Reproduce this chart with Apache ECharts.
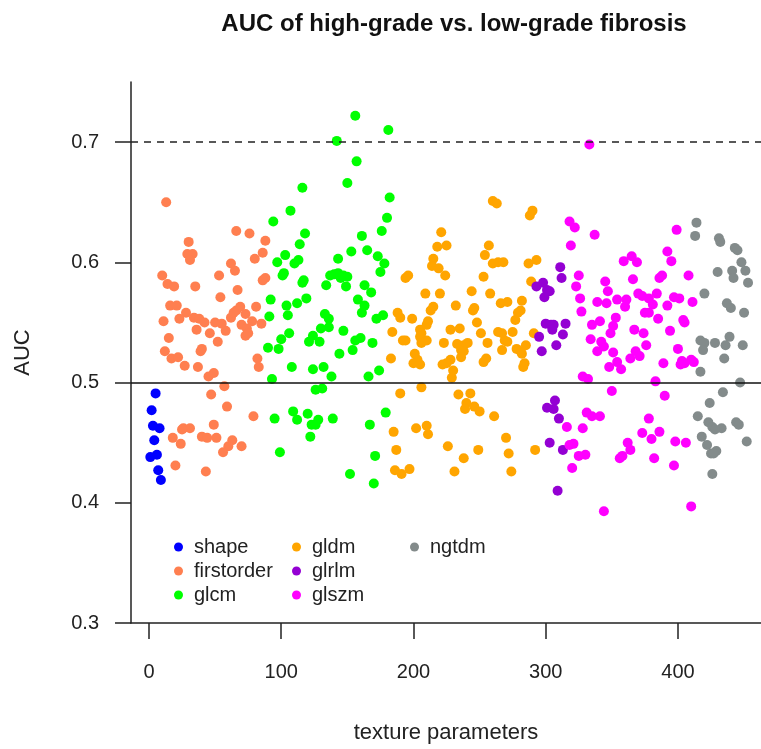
<!DOCTYPE html>
<html>
<head>
<meta charset="utf-8">
<script src="https://cdn.jsdelivr.net/npm/echarts/dist/echarts.min.js"></script>
<style>html,body{margin:0;padding:0;background:#fff}#c{width:761px;height:749px}</style>
</head>
<body>
<div id="c"></div>
<script>
const titleText = 'AUC of high-grade vs. low-grade fibrosis';
const xName = 'texture parameters';
const yName = 'AUC';
const xTicks = [0, 100, 200, 300, 400];
const yTicks = [0.3, 0.4, 0.5, 0.6, 0.7];
const refSolid = 0.5;
const refDashed = 0.7;
const groups = ['shape', 'firstorder', 'glcm', 'gldm', 'glrlm', 'glszm', 'ngtdm'];

const shape = [[1,0.438],[2,0.477],[3,0.464],[4,0.452],[5,0.491],[6,0.440],[7,0.427],[8,0.462],[9,0.419]];

const firstorder = [[13,0.650],[30,0.617],[29,0.607],[33,0.607],[31,0.602],[66,0.626],[76,0.624],[88,0.618],[86,0.608],[80,0.603],
[62,0.599],[65,0.593],[10,0.589],[14,0.582],[19,0.580],[35,0.580],[53,0.589],[67,0.577],[88,0.587],[86,0.585],
[54,0.571],[16,0.564],[21,0.564],[28,0.558],[11,0.551],[23,0.553],[34,0.554],[38,0.553],[42,0.550],[36,0.544],
[50,0.550],[55,0.549],[58,0.543],[46,0.541],[52,0.534],[15,0.537],[62,0.554],[66,0.560],[69,0.563],[73,0.557],[64,0.558],[81,0.563],
[70,0.548],[74,0.545],[78,0.551],[73,0.539],[75,0.541],[85,0.549],[12,0.526],[17,0.520],[22,0.521],[40,0.528],[39,0.526],[27,0.514],[37,0.513],[82,0.520],[83,0.513],
[49,0.508],[45,0.505],[57,0.497],[47,0.490],[59,0.480],[79,0.472],[49,0.465],[26,0.462],[31,0.462],[25,0.461],[18,0.454],[24,0.449],[40,0.455],[44,0.454],[51,0.454],
[63,0.452],[60,0.447],[56,0.442],[70,0.447],[20,0.431],[43,0.426]];

const glcm = [[156,0.722],[142,0.701],[181,0.710],[157,0.684],[150,0.666],[116,0.662],[182,0.654],[107,0.643],[180,0.637],[94,0.634],[176,0.626],[118,0.624],[161,0.622],[114,0.615],[153,0.609],[165,0.610],[143,0.603],[173,0.605],[103,0.606],[97,0.600],[110,0.599],[113,0.602],[178,0.599],[175,0.592],
[101,0.589],[102,0.591],[116,0.583],[117,0.585],[134,0.581],[137,0.589],[140,0.590],[143,0.591],[147,0.589],[150,0.588],[145,0.587],[149,0.580],[163,0.581],[168,0.575],
[158,0.569],[92,0.569],[104,0.564],[112,0.566],[119,0.570],[163,0.564],[161,0.558],[172,0.553],[177,0.556],
[91,0.555],[105,0.556],[133,0.557],[136,0.553],[130,0.545],[136,0.546],[147,0.543],[106,0.541],[100,0.536],[124,0.539],[121,0.534],[129,0.534],[156,0.535],[154,0.527],[160,0.537],[169,0.533],
[90,0.529],[98,0.528],[144,0.524],[108,0.513],[124,0.511],[132,0.513],[138,0.505],[93,0.503],[166,0.505],[174,0.510],
[126,0.494],[131,0.495],[95,0.470],[109,0.476],[112,0.469],[120,0.474],[128,0.469],[123,0.465],[126,0.465],[139,0.470],[179,0.475],[167,0.465],[122,0.455],[99,0.442],[171,0.439],[152,0.424],[170,0.416]];

const gldm = [[260,0.651],[263,0.649],[288,0.639],[290,0.643],[221,0.625],[218,0.613],[225,0.614],[257,0.614],[254,0.606],[215,0.603],[260,0.599],[264,0.600],[268,0.600],[287,0.599],[293,0.602],[214,0.597],[219,0.595],[224,0.589],[194,0.587],[196,0.589],[253,0.588],[289,0.584],[209,0.574],[220,0.574],[244,0.576],[258,0.574],
[266,0.566],[271,0.567],[281,0.560],[279,0.558],[232,0.564],[246,0.562],[245,0.560],[215,0.563],[213,0.560],[188,0.558],[190,0.554],[199,0.553],[211,0.551],[210,0.548],[205,0.544],[248,0.550],[277,0.552],[184,0.542],[206,0.541],[205,0.538],[228,0.544],[235,0.545],[251,0.541],[264,0.542],[267,0.541],[275,0.542],
[192,0.535],[194,0.535],[210,0.535],[206,0.533],[223,0.533],[233,0.532],[238,0.531],[241,0.533],[236,0.527],[238,0.526],[256,0.533],[269,0.535],[271,0.534],[267,0.527],[278,0.528],[281,0.526],[285,0.531],[282,0.524],
[201,0.524],[203,0.519],[200,0.516],[205,0.515],[183,0.520],[228,0.519],[225,0.516],[222,0.515],[236,0.521],[255,0.520],[253,0.517],[284,0.516],[283,0.513],[230,0.510],[229,0.504],[282,0.568],[291,0.541],
[206,0.496],[190,0.491],[234,0.490],[243,0.491],[240,0.483],[239,0.478],[246,0.480],[250,0.476],[261,0.472],[185,0.459],[202,0.462],[210,0.464],[211,0.457],[270,0.454],[226,0.447],[187,0.444],[249,0.444],[272,0.441],[238,0.437],[292,0.444],[186,0.427],[191,0.424],[197,0.428],[231,0.426],[274,0.426]];

const glrlm = [[293,0.580],[311,0.596],[312,0.587],[298,0.583],[301,0.577],[303,0.576],[299,0.571],
[300,0.549],[304,0.548],[306,0.548],[305,0.544],[315,0.549],[295,0.538],[313,0.540],[308,0.531],[297,0.526],
[307,0.485],[301,0.479],[306,0.478],[310,0.470],[303,0.450],[313,0.444],[309,0.410]];

const glszm = [[333,0.698],[318,0.634],[322,0.629],[337,0.623],[319,0.614],[399,0.627],[365,0.605],[359,0.601],[369,0.600],[392,0.609],[395,0.601],[325,0.589],[323,0.580],[345,0.584],[347,0.576],[366,0.586],[388,0.589],[386,0.587],[408,0.589],
[326,0.570],[327,0.559],[339,0.567],[346,0.566],[354,0.569],[361,0.569],[360,0.563],[370,0.574],[373,0.572],[378,0.570],[381,0.565],[384,0.574],[392,0.564],[397,0.571],[401,0.570],[411,0.567],[375,0.558],[378,0.558],[353,0.554],[385,0.553],[404,0.552],[405,0.550],[341,0.551],[335,0.548],[351,0.547],[349,0.541],[367,0.544],[374,0.541],[394,0.543],[334,0.536],[342,0.534],[344,0.530],[376,0.531],[339,0.526],[351,0.525],[368,0.526],[371,0.522],[364,0.520],[400,0.528],[389,0.516],[354,0.517],[357,0.511],[348,0.513],[403,0.518],[405,0.516],[410,0.519],[412,0.517],[402,0.515],
[328,0.505],[332,0.503],[383,0.501],[350,0.493],[390,0.489],[331,0.475],[335,0.472],[341,0.472],[378,0.470],[316,0.463],[328,0.462],[373,0.458],[386,0.459],[380,0.453],[362,0.450],[398,0.451],[406,0.450],[318,0.448],[321,0.449],[364,0.444],[325,0.439],[330,0.440],[356,0.437],[358,0.439],[382,0.437],[320,0.429],[397,0.431],[344,0.393],[410,0.397]];

const ngtdm = [[414,0.633],[413,0.622],[431,0.620],[432,0.617],[443,0.612],[445,0.610],[448,0.600],[451,0.593],[453,0.583],[430,0.592],[441,0.593],[442,0.587],[420,0.574],[437,0.566],[440,0.562],[450,0.558],[417,0.535],[420,0.533],[428,0.533],[419,0.527],[439,0.538],[436,0.531],[449,0.531],[435,0.520],[417,0.509],[447,0.500],[434,0.492],[424,0.483],[415,0.472],[423,0.467],[426,0.463],[433,0.462],[428,0.461],[444,0.467],[446,0.465],[418,0.455],[422,0.448],[425,0.441],[429,0.443],[427,0.441],[452,0.451],[426,0.424]];

const seriesData = [shape, firstorder, glcm, gldm, glrlm, glszm, ngtdm];
const colors = ['#0000FF', '#FF7F50', '#00FF00', '#FFA500', '#9400D3', '#FF00FF', '#838B8B'];

const FONT = '"Liberation Sans", Arial, Helvetica, sans-serif';
const chart = echarts.init(document.getElementById('c'), null, {renderer: 'canvas'});

const series = groups.map((g, i) => ({
  name: g,
  type: 'scatter',
  data: seriesData[i],
  symbol: 'circle',
  symbolSize: 10,
  itemStyle: {color: colors[i], opacity: 1},
  emphasis: {disabled: true},
  z: 2
}));
series.push({
  name: 'ref',
  type: 'scatter',
  data: [],
  silent: true,
  markLine: {
    silent: true,
    symbol: ['none', 'none'],
    label: {show: false},
    animation: false,
    data: [
      {yAxis: refSolid, lineStyle: {color: '#111', width: 1.6, type: 'solid'}},
      {yAxis: refDashed, lineStyle: {color: '#222', width: 1.6, type: [7, 6]}}
    ]
  }
});

const legendCommon = {
  orient: 'vertical',
  icon: 'circle',
  itemWidth: 9,
  itemHeight: 9,
  itemGap: 4,
  selectedMode: false,
  textStyle: {fontFamily: FONT, fontSize: 20, color: '#222', padding: [0, 0, 0, 6]},
  top: 532
};

chart.setOption({
  animation: false,
  backgroundColor: '#fff',
  color: colors,
  title: {
    text: titleText,
    left: 449,
    textAlign: 'center',
    top: 7,
    textStyle: {fontFamily: FONT, fontSize: 24, fontWeight: 'bold', color: '#111'}
  },
  legend: [
    Object.assign({}, legendCommon, {left: 169, data: groups.slice(0, 3)}),
    Object.assign({}, legendCommon, {left: 287, data: groups.slice(3, 6)}),
    Object.assign({}, legendCommon, {left: 405, data: groups.slice(6)})
  ],
  grid: {left: 131, right: 0, top: 82, bottom: 126, containLabel: false},
  xAxis: {
    type: 'value',
    min: -13.6,
    max: 462.8,
    name: xName,
    nameLocation: 'middle',
    nameGap: 99,
    nameTextStyle: {fontFamily: FONT, fontSize: 22, color: '#222'},
    axisLine: {show: true, onZero: false, lineStyle: {color: '#222', width: 1.5}},
    axisTick: {show: true, inside: false, length: 16, customValues: xTicks, lineStyle: {color: '#222', width: 1.5}},
    axisLabel: {fontFamily: FONT, fontSize: 20, color: '#222', margin: 39, customValues: xTicks},
    splitLine: {show: false}
  },
  yAxis: {
    type: 'value',
    min: 0.3,
    max: 0.75,
    name: yName,
    nameLocation: 'middle',
    nameGap: 97,
    nameRotate: 90,
    nameTextStyle: {fontFamily: FONT, fontSize: 22, color: '#222'},
    axisLine: {show: true, onZero: false, lineStyle: {color: '#222', width: 1.5}},
    axisTick: {show: true, inside: false, length: 16, customValues: yTicks, lineStyle: {color: '#222', width: 1.5}},
    axisLabel: {fontFamily: FONT, fontSize: 20, color: '#222', margin: 32, customValues: yTicks, formatter: v => v.toFixed(1)},
    splitLine: {show: false}
  },
  series: series
});
</script>
</body>
</html>
